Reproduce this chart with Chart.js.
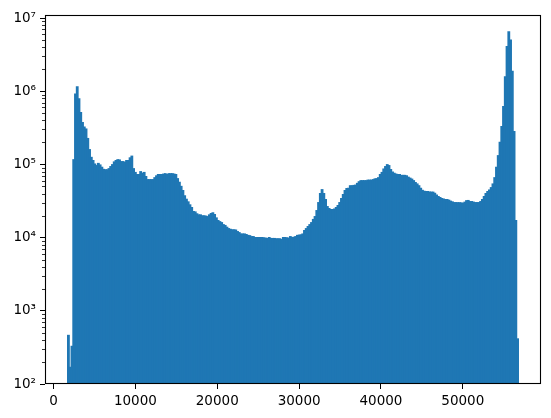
<!DOCTYPE html>
<html>
<head>
<meta charset="utf-8">
<script src="https://cdn.jsdelivr.net/npm/chart.js@4/dist/chart.umd.min.js"></script>
<style>
  body { margin: 0; background: #fff; }
  canvas { display: block; }
</style>
</head>
<body>
<canvas id="histChart" width="551" height="418"></canvas>
<script>
// Histogram: 256 bins, first edge and bin width
const binStart = 1710;
const binWidth = 215.2;

// Counts per bin (log y)
const counts = [
  470, 172, 333, 118000, 930000, 1170000, 800000, 520000, 380000, 330000,
  310000, 230000, 162000, 127000, 115000, 103000, 98000, 105000, 100000, 93000,
  87000, 86000, 86000, 89000, 95000, 101000, 110000, 115000, 118000, 117000,
  111000, 111000, 109000, 115000, 115000, 125000, 132000, 89000, 79000, 74000,
  74000, 81000, 77000, 79000, 69500, 63000, 63000, 63000, 63000, 67000,
  71000, 74000, 74000, 74000, 75000, 76000, 74000, 76000, 76000, 76000,
  75000, 74000, 65000, 58000, 51000, 44700, 37900, 34000, 31300, 28500,
  26200, 23100, 22800, 21500, 20800, 20800, 20200, 20200, 20000, 19700,
  20800, 21700, 22200, 21000, 18900, 17400, 16800, 16300, 15300, 14900,
  14100, 13500, 13200, 13000, 13000, 12900, 12300, 11900, 11400, 11400,
  11400, 11200, 10900, 10800, 10500, 10500, 10200, 10200, 10200, 10200,
  10200, 10100, 10000, 9900, 10200, 9900, 9900, 9900, 9800, 9800,
  9800, 9600, 10200, 10200, 10100, 10000, 10500, 10200, 10300, 10500,
  10900, 11000, 11100, 11400, 12700, 13500, 14400, 15300, 16300, 18000,
  19700, 23800, 30600, 40700, 46000, 40700, 33700, 27000, 25400, 24600,
  24600, 25000, 26200, 27900, 30600, 34800, 39400, 44700, 47600, 48000,
  52000, 52000, 52500, 53000, 56000, 59000, 61000, 61000, 61000, 61000,
  62000, 62000, 62000, 63000, 64500, 65000, 67000, 74000, 79000, 88000,
  95000, 101000, 98000, 86500, 80000, 77000, 75000, 74000, 74000, 72000,
  72000, 72000, 71000, 68000, 66000, 64000, 61000, 57500, 55000, 52000,
  48000, 45000, 43700, 43300, 43300, 42700, 42500, 42500, 41000, 38800,
  37000, 35900, 34800, 34200, 33700, 33700, 33000, 32000, 31300, 30600,
  30600, 30500, 30500, 30300, 30000, 31000, 32500, 32700, 31600, 31600,
  31000, 30600, 30600, 30600, 31600, 33700, 37000, 40700, 43300, 45500,
  49000, 55000, 67000, 93000, 134000, 204000, 335000, 630000, 1600000, 4150000,
  6600000, 5100000, 1900000, 286000, 17400, 421
];

const xTicks = [0, 10000, 20000, 30000, 40000, 50000];
const yTicks = [1e2, 1e3, 1e4, 1e5, 1e6, 1e7];
const yTickLabels = ["10²", "10³", "10⁴", "10⁵", "10⁶", "10⁷"];

const binCenters = counts.map((_, i) => binStart + (i + 0.5) * binWidth);
const points = counts.map((c, i) => ({ x: binCenters[i], y: c }));

// box around the plot + log minor ticks on the left spine
const frameAndMinorTicks = {
  id: "frameAndMinorTicks",
  afterDraw(chart) {
    const { ctx, chartArea: a } = chart;
    const y = chart.scales.y;
    ctx.save();
    ctx.strokeStyle = "#000";
    ctx.lineWidth = 0.8;
    for (let e = 2; e < 8; e++) {
      for (let m = 2; m < 10; m++) {
        const v = m * Math.pow(10, e);
        if (v > y.max) continue;
        const py = Math.round(y.getPixelForValue(v)) + 0.5;
        ctx.beginPath();
        ctx.moveTo(a.left - 3, py);
        ctx.lineTo(a.left, py);
        ctx.stroke();
      }
    }
    ctx.lineWidth = 1.1;
    ctx.strokeRect(a.left + 0.5, a.top + 0.5, a.right - a.left - 1, a.bottom - a.top - 1);
    ctx.restore();
  }
};

const tickFont = { family: "DejaVu Sans", size: 13.5 };

new Chart(document.getElementById("histChart"), {
  type: "bar",
  data: {
    datasets: [{
      data: points,
      backgroundColor: "#1f77b4",
      borderWidth: 0,
      // bars overlap by ~half a pixel each side so no anti-aliased seams show
      barPercentage: 1.6,
      categoryPercentage: 1
    }]
  },
  options: {
    responsive: false,
    animation: false,
    layout: { padding: { left: 0, top: 15, right: 10, bottom: 0 } },
    plugins: { legend: { display: false }, tooltip: { enabled: false } },
    scales: {
      x: {
        type: "linear",
        min: -1044,
        max: 59552,
        offset: false,
        grid: { offset: false, drawOnChartArea: false, drawTicks: true, tickLength: 5, color: "#000" },
        border: { display: false },
        ticks: { color: "#000", font: tickFont, padding: 4, maxRotation: 0, callback: v => String(v) },
        afterBuildTicks: s => { s.ticks = xTicks.map(v => ({ value: v })); },
        afterFit: s => { s.height = 34; }
      },
      y: {
        type: "logarithmic",
        min: 100,
        max: 1.1e7,
        grid: { drawOnChartArea: false, drawTicks: true, tickLength: 5, color: "#000" },
        border: { display: false },
        ticks: {
          color: "#000",
          font: tickFont,
          padding: 4,
          callback: v => yTickLabels[yTicks.indexOf(v)]
        },
        afterBuildTicks: s => { s.ticks = yTicks.map(v => ({ value: v })); },
        afterFit: s => { s.width = 45; }
      }
    }
  },
  plugins: [frameAndMinorTicks]
});
</script>
</body>
</html>
